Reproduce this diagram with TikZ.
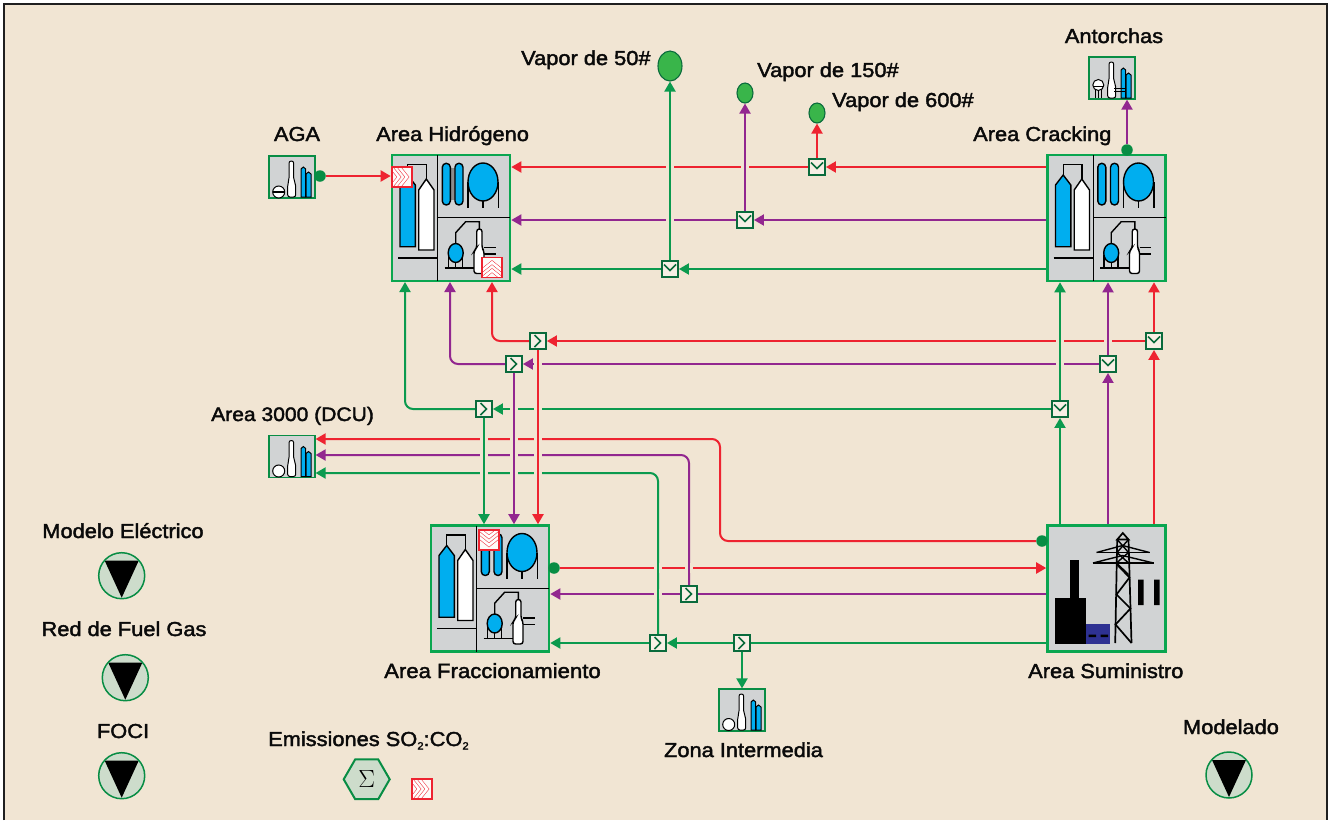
\documentclass[tikz,border=0pt]{standalone}
\usepackage{fontspec}
\setmainfont{Liberation Sans}[FakeStretch=1.08,FakeBold=2]
\usetikzlibrary{arrows.meta,shapes.geometric,backgrounds}
\definecolor{bgc}{HTML}{F1E5D3}
\definecolor{redl}{HTML}{EE2330}
\definecolor{purl}{HTML}{92278F}
\definecolor{grnl}{HTML}{0B9A4E}
\definecolor{darkg}{HTML}{0A6B3C}
\definecolor{blockg}{HTML}{0AA650}
\definecolor{greyf}{HTML}{D1D3D4}
\definecolor{bluef}{HTML}{00AEEF}
\definecolor{leaf}{HTML}{39B54A}
\definecolor{palef}{HTML}{CDDCCB}
\definecolor{navyf}{HTML}{2E3192}
\definecolor{inkc}{HTML}{0A0A0A}
\tikzset{
  ln/.style={line width=2pt,rounded corners=8pt,-{Triangle[length=10pt,width=11pt]}},
  rr/.style={ln,draw=redl},
  pp/.style={ln,draw=purl},
  gg/.style={ln,draw=grnl},
  rn/.style={rr,arrows=-},
  pn/.style={pp,arrows=-},
  gn/.style={gg,arrows=-},
  halo/.style={preaction={draw=bgc,line width=7.5pt,arrows=-}},
  haloonly/.style={draw=bgc,line width=7.5pt},
  areabox/.style={draw=blockg,line width=2.6pt,fill=greyf,minimum width=118pt,minimum height=126pt,inner sep=0pt},
  smallbox/.style={draw=blockg!85!black,line width=1.2pt,fill=greyf,minimum width=46pt,minimum height=42pt,inner sep=0pt},
  jbase/.style={draw=darkg,line width=1.9pt,fill=bgc!60!white,minimum size=16pt,inner sep=0pt},
  jright/.style={jbase,path picture={\begin{scope}[shift={(path picture bounding box.center)}]\draw[darkg,line width=1.6pt] (-3.5,-6)--(2.5,0)--(-3.5,6);\end{scope}}},
  jdown/.style={jbase,path picture={\begin{scope}[shift={(path picture bounding box.center)}]\draw[darkg,line width=1.6pt] (-6,-4.5)--(0,1.5)--(6,-4.5);\end{scope}}},
  rbase/.style={draw=redl,line width=1.2pt,fill=white!85!bgc,minimum size=20pt,inner sep=0pt},
  chev/.style={draw=redl,line width=.5pt,double=white,double distance=2.6pt},
  rrt/.style={rbase,path picture={\begin{scope}[shift={(path picture bounding box.center)}]\draw[chev] (-11,-10)--(-3,0)--(-11,10);\draw[chev] (-3,-10)--(5,0)--(-3,10);\end{scope}}},
  rup/.style={rbase,path picture={\begin{scope}[shift={(path picture bounding box.center)}]\draw[chev] (-10,3)--(0,-5)--(10,3);\draw[chev] (-10,11)--(0,3)--(10,11);\end{scope}}},
  rdn/.style={rbase,path picture={\begin{scope}[shift={(path picture bounding box.center)}]\draw[chev] (-10,-11)--(0,-3)--(10,-11);\draw[chev] (-10,-3)--(0,5)--(10,-3);\end{scope}}},
  dotg/.style={circle,fill=blockg!85!black,inner sep=0pt,minimum size=11.5pt},
  steam/.style={ellipse,draw=darkg,line width=1.1pt,fill=leaf,inner sep=0pt},
  modelc/.style={circle,draw=blockg!85!black,line width=1.5pt,fill=palef,minimum size=46pt,inner sep=0pt,
    path picture={\begin{scope}[shift={(path picture bounding box.center)}]\fill[black] (-17,-15)--(17,-15)--(0,22)--cycle;\end{scope}}},
  lbl/.style={anchor=base west,inner sep=0pt,text=inkc,font=\fontsize{20.2}{24}\selectfont},
  lblc/.style={anchor=base,inner sep=0pt,text=inkc,font=\fontsize{20.2}{24}\selectfont},
  ic/.style={draw=black,line width=1.4pt,line join=miter},
  areaicon/.pic={
    \draw[black,line width=1.4pt] (45.7,0)--(45.7,126);
    \draw[black,line width=1.4pt] (45.7,62.7)--(118,62.7);
    \draw[black,line width=1.2pt] (6,103)--(45.7,103);
    \draw[ic] (15.7,20)--(15.7,9.3)--(34.3,9.3)--(34.3,24);
    \draw[ic,fill=bluef] (8,30)--(15.7,20)--(23.3,30)--(23.3,91.7)--(8,91.7)--cycle;
    \draw[ic,fill=white] (26.7,35)--(34.3,24)--(42,35)--(42,95)--(26.7,95)--cycle;
    \draw[ic,fill=bluef,rounded corners=3.9pt] (50.3,8.3) rectangle (58.3,50);
    \draw[ic,fill=bluef,rounded corners=3.9pt] (63,8.3) rectangle (71,50);
    \draw[ic] (76,27)--(76,53) (106.3,27)--(106.3,53) (91,45)--(91,53);
    \draw[ic,fill=bluef] (91,27) ellipse [x radius=15,y radius=19];
    \draw[ic] (56.5,100)--(56.5,113) (70.5,100)--(70.5,113) (63.7,105)--(63.7,113) (52.7,113)--(82.7,113);
    \draw[ic] (63.7,89)--(63.7,77.7)--(73.7,66.7)--(87.3,66.7)--(87.3,74.3);
    \draw[ic,fill=bluef] (63.7,98) ellipse [x radius=7.5,y radius=9.5];
    \draw[ic] (92,92.3)--(103.7,92.3) (92,99)--(103.7,99);
    \draw[ic,fill=white,rounded corners=2.6pt] (84.7,93)--(84.7,74)--(90,74)--(90,93)--(92,96)--(92,118.5)--(82,118.5)--(82,96)--cycle;
  },
  smallicon/.pic={
    \draw[ic,line width=1pt,fill=white,rounded corners=2.2pt] (20,24)--(20,5)--(24.7,5)--(24.7,24)--(26.7,28)--(26.7,41)--(18.7,41)--(18.7,28)--cycle;
    \draw[ic,line width=1pt,fill=bluef] (32,41)--(32,13)--(34.3,11)--(36.7,13)--(36.7,41)--cycle;
    \draw[ic,line width=1pt,fill=bluef] (37,41)--(37,18)--(39.5,16)--(42,18)--(42,41)--cycle;
  },
  plainball/.pic={\draw[ic,line width=1pt,fill=white] (9.7,35.5) circle (6);},
  barball/.pic={\draw[ic,line width=1pt,fill=white] (9.7,36) circle (6);\draw[black,line width=1.4pt] (3.7,36)--(15.7,36);},
  towerball/.pic={
    \draw[ic,line width=.9pt] (6,28)--(6,41) (9.3,28)--(9.3,41) (12.6,28)--(12.6,41);
    \draw[ic,line width=1pt,fill=white] (9.3,28) circle (5.5);
    \draw[black,line width=1pt] (3.8,29)--(14.8,29);
    \draw[black,line width=.9pt] (25,31)--(37,31) (25,34.5)--(37,34.5);
  },
  powericon/.pic={
    \fill[black] (22.7,34) rectangle (31.3,73);
    \fill[black] (7.3,72) rectangle (38.7,118.5);
    \fill[navyf] (38.3,98.5) rectangle (62,118.5);
    \fill[black] (41,109) rectangle (48.7,111.5) (53,109) rectangle (60.7,111.5);
    \draw[black,line width=1.7pt] (69.7,14)--(67.7,117.5) (81,14)--(84,117.5);
    \draw[black,line width=1.7pt] (69.7,14)--(75.3,7.5)--(81,14)--cycle;
    \draw[black,line width=1.7pt] (49,27)--(102,27) (45.5,37.5)--(106,37.5);
    \draw[black,line width=1.4pt] (49,27)--(75,20)--(102,27) (45.5,37.5)--(75,30)--(106,37.5);
    \draw[black,line width=1.4pt] (69.7,14)--(81,27)--(69,37.5)--(81,49) (81,14)--(69.5,27)--(81,37.5);
    \draw[black,line width=1.7pt] (69.5,39)--(82,52)--(69,69)--(83,83)--(68,99)--(84,117.5);
    \fill[black] (90.7,54) rectangle (96,79.5) (106.7,54) rectangle (112,79.5);
  },
  capshade/.pic={\fill[black!45] (58,13) rectangle (63,45);}
}
\begin{document}
\begin{tikzpicture}[x=1pt,y=-1pt]
\useasboundingbox (0,0) rectangle (1328,820);

% blocks
\node[areabox] (hy) at (451,218) {};
\node[areabox] (cr) at (1106.5,218) {};
\node[areabox] (fr) at (490,588.5) {};
\node[areabox] (su) at (1106.5,588.5) {};
\node[smallbox] (aga) at (292,177) {};
\node[smallbox] (ant) at (1112,78) {};
\node[smallbox] (dcu) at (292,456.5) {};
\node[smallbox] (zon) at (742,710) {};

% junctions
\node[jdown] (j600) at (817,167) {};
\node[jdown] (j150) at (745,220) {};
\node[jdown] (j50) at (670,269) {};
\node[jright] (jhr) at (538,341) {};
\node[jright] (jhp) at (514,364) {};
\node[jright] (jhg) at (484,409) {};
\node[jdown] (jcr) at (1154,341) {};
\node[jdown] (jcp) at (1108,364) {};
\node[jdown] (jcg) at (1060,409) {};
\node[jright] (jp) at (689,594) {};
\node[jright] (jg) at (658,643) {};
\node[jright] (jz) at (742,643) {};
\node[steam,minimum width=24pt,minimum height=30pt] (s50) at (670,66) {};
\node[steam,minimum width=16pt,minimum height=20pt] (s150) at (745,93) {};
\node[steam,minimum width=16pt,minimum height=20pt] (s600) at (817,113) {};
\coordinate (kr) at (720,439);
\coordinate (kp) at (689,455);
\coordinate (kg) at (658,473);
\coordinate (hr) at (492,282);
\coordinate (hp) at (450,282);
\coordinate (hg) at (405,282);
\node[dotg] (daga) at (320,176) {};
\node[dotg] (dcr) at (1127,150) {};
\node[dotg] (dfr) at (554,568) {};
\node[dotg] (dsu) at (1042,541) {};

\begin{scope}[on background layer]
\fill[white] (0,0) rectangle (1328,820);
\fill[bgc] (4,4) rectangle (1327,820);
\draw[black!88,line width=1.3pt] (4,820)--(4,4)--(1327,4)--(1327,820);

% horizontal lines and bends
\draw[rr] (cr.west |- j600) -- (j600.east);
\draw[rr] (j600.west) -- (hy.east |- j600);
\draw[pp] (cr.west |- j150) -- (j150.east);
\draw[pp] (j150.west) -- (hy.east |- j150);
\draw[gg] (cr.west |- j50) -- (j50.east);
\draw[gg] (j50.west) -- (hy.east |- j50);
\draw[rr] (jcr.west) -- (jhr.east);
\draw[pp] (jcp.west) -- (jhp.east);
\draw[gg] (jcg.west) -- (jhg.east);
\draw[rr] (jhr.west) -| (hr);
\draw[pp] (jhp.west) -| (hp);
\draw[gg] (jhg.west) -| (hg);
\draw[rr] (dsu.west) -| (kr) -- (dcu.east |- kr);
\draw[pp] (jp.north) |- (dcu.east |- kp);
\draw[gg] (jg.north) |- (dcu.east |- kg);
\draw[rr] (dfr.east) -- (su.west |- dfr);
\draw[pn] (su.west |- jp) -- (jp.east);
\draw[pp] (jp.west) -- (fr.east |- jp);
\draw[gn] (su.west |- jz) -- (jz.east);
\draw[gg] (jz.west) -- (jg.east);
\draw[gg] (jg.west) -- (fr.east |- jg);
\draw[rr] (daga.east) -- (hy.west |- daga);

% gaps where the bent verticals cross
\path[haloonly,draw=bgc] (kp |- dfr) ++(0,-5) -- ++(0,10);
\path[haloonly,draw=bgc] (kg |- dfr) ++(0,-5) -- ++(0,10);
\path[haloonly,draw=bgc] (kg |- jp) ++(0,-5) -- ++(0,10);
\draw[pn] (kp |- dfr) ++(0,-7) -- ++(0,14);
\draw[gn] (kg |- dfr) ++(0,-7) -- ++(0,14);
\draw[gn] (kg |- jp) ++(0,-7) -- ++(0,14);

% verticals with gaps
\draw[gg,halo] (j50.north) -- (s50.south);
\draw[pp,halo] (j150.north) -- (s150.south);
\draw[rr] (j600.north) -- (s600.south);
\draw[gg,halo] (jhg.south) -- (fr.north -| jhg);
\draw[pp,halo] (jhp.south) -- (fr.north -| jhp);
\draw[rr,halo] (jhr.south) -- (fr.north -| jhr);
\draw[gg,halo] (jcg.north) -- (cr.south -| jcg);
\draw[pp,halo] (jcp.north) -- (cr.south -| jcp);
\draw[rr] (jcr.north) -- (cr.south -| jcr);
\draw[gg] (su.north -| jcg) -- (jcg.south);
\draw[pp] (su.north -| jcp) -- (jcp.south);
\draw[rr] (su.north -| jcr) -- (jcr.south);
\draw[pp] (dcr.north) -- (ant.south -| dcr);
\draw[gg] (jz.south) -- (zon.north -| jz);
\end{scope}

% block pictures
\pic at ([shift={(-59,-63)}]hy.center) {capshade};
\pic at ([shift={(-59,-63)}]hy.center) {areaicon};
\pic at ([shift={(-59,-63)}]cr.center) {areaicon};
\pic at ([shift={(-59,-63)}]fr.center) {areaicon};
\pic at ([shift={(-59,-63)}]su.center) {powericon};
\foreach \n in {aga,ant,dcu,zon}{\pic at ([shift={(-23,-21)}]\n.center) {smallicon};}
\pic at ([shift={(-23,-21)}]aga.center) {barball};
\pic at ([shift={(-23,-21)}]dcu.center) {plainball};
\pic at ([shift={(-23,-21)}]zon.center) {plainball};
\pic at ([shift={(-23,-21)}]ant.center) {towerball};
\node[rrt] (o1) at (402,177) {};
\node[rup] (o2) at (492,267.5) {};
\node[rdn] (o3) at (489,540) {};
\node[rrt] (o4) at (422,789) {};

% summary symbols
\node[modelc] (m1) at (121.7,575.7) {};
\node[modelc] (m2) at (125.3,677.7) {};
\node[modelc] (m3) at (121.7,775.7) {};
\node[modelc] (m4) at (1229,775) {};
\node[regular polygon,regular polygon sides=6,draw=blockg!85!black,line width=2pt,fill=palef,minimum size=46pt,inner sep=0pt,font=\fontsize{32}{34}\selectfont] (sg) at (366.7,779.3) {$\Sigma$};

% labels
\node[lbl] (t1) at (521,65) {Vapor de 50\#};
\node[lbl] (t2) at (757,77) {Vapor de 150\#};
\node[lbl] (t3) at (832,107) {Vapor de 600\#};
\node[lblc] (t4) at (1114,43) {Antorchas};
\node[lblc] (t5) at (297,141) {AGA};
\node[lbl] (t6) at (376,141) {Area Hidrógeno};
\node[lbl] (t7) at (973,141) {Area Cracking};
\node[lbl,font=\fontsize{19.5}{24}\selectfont] (t8) at (211,421) {Area 3000 (DCU)};
\node[lblc] (t9) at (123,538) {Modelo Eléctrico};
\node[lblc] (t10) at (124,636) {Red de Fuel Gas};
\node[lblc] (t11) at (123,738) {FOCI};
\node[lbl] (t12) at (268,746) {Emissiones SO\raisebox{-3.5pt}{\fontsize{10.5}{12}\selectfont 2}:CO\raisebox{-3.5pt}{\fontsize{10.5}{12}\selectfont 2}};
\node[lbl,font=\fontsize{20.5}{24}\selectfont] (t13) at (384,678) {Area Fraccionamiento};
\node[lbl] (t14) at (1028,678) {Area Suministro};
\node[lblc] (t15) at (743.5,757) {Zona Intermedia};
\node[lblc] (t16) at (1231,734) {Modelado};
\end{tikzpicture}
\end{document}
